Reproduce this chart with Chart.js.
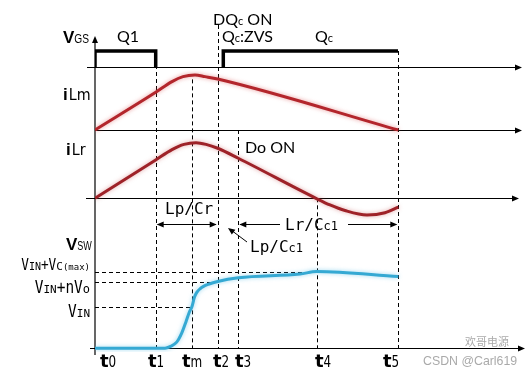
<!DOCTYPE html>
<html>
<head>
<meta charset="utf-8">
<script src="https://cdn.jsdelivr.net/npm/chart.js@4.4.0/dist/chart.umd.min.js"></script>
<style>
  html, body { margin: 0; padding: 0; background: #fff; }
</style>
</head>
<body>
<canvas id="timing" width="531" height="376"></canvas>
<script>
// time markers, arbitrary units with t0 = 0
const timeNames = ['t0', 't1', 'tm', 't2', 't3', 't4', 't5'];
const timeValues = [0, 6.07, 9.73, 12.27, 14.33, 22.17, 30.33];
const timeEnd = 43;

// gate signals (0 = off, 1 = on)
const q1Time = [0, 0, 6.07, 6.07];
const q1Value = [0, 1, 1, 0];
const qcTime = [12.83, 12.83, 30.3];
const qcValue = [-0.15, 1, 1];

// magnetising current iLm, peak = 1
const iLmTime = [0, 6.07, 7.7, 8.8, 10.0, 11.0, 12.27, 30.33];
const iLmValue = [0, 0.685, 0.88, 0.97, 1.0, 0.97, 0.927, 0];

// resonant current iLr, peak = 1
const iLrTime = [0, 6.07, 7.7, 8.9, 10.1, 11.1, 12.27, 14.33, 22.1, 23.5, 25.0, 27.2, 29.0, 30.33];
const iLrValue = [0, 0.689, 0.875, 0.97, 1.0, 0.97, 0.9, 0.72, 0, -0.12, -0.22, -0.3, -0.26, -0.16];

// switch node voltage, VIN = 1
const vswTime = [0, 7.0, 7.5, 8.17, 8.67, 9.1, 9.43, 9.7, 9.95, 10.2, 10.5, 10.85, 11.33, 12.27, 14.33, 20.5, 22.17, 30.33];
const vswValue = [0, 0, 0.04, 0.15, 0.37, 0.65, 0.88, 1.02, 1.25, 1.37, 1.45, 1.51, 1.56, 1.63, 1.72, 1.81, 1.87, 1.75];

// reference levels on the VSW row and where their dashes stop
const levelValues = [1.0, 1.61, 1.87];
const levelEnds = [9.73, 12.27, 22.17];

const zip = (xs, ys) => xs.map((x, i) => ({ x: x, y: ys[i] }));

const MONO = '"DejaVu Sans Mono"';
const SANS = 'Lato';

// draw a run of text pieces with different fonts; sx squeezes a piece
function rich(ctx, x, y, parts, align) {
  let w = 0;
  parts.forEach(p => { ctx.font = p[1]; w += ctx.measureText(p[0]).width * (p[2] || 1); });
  let cx = align === 'right' ? x - w : align === 'center' ? x - w / 2 : x;
  parts.forEach(p => {
    const sx = p[2] || 1;
    ctx.font = p[1];
    ctx.save();
    ctx.translate(cx, y);
    ctx.scale(sx, 1);
    ctx.fillText(p[0], 0, 0);
    ctx.restore();
    cx += ctx.measureText(p[0]).width * sx;
  });
}

function head(ctx, x, y, dx, dy) {
  // filled arrow head pointing along (dx, dy)
  const len = 7, half = 3;
  const n = Math.hypot(dx, dy);
  const ux = dx / n, uy = dy / n;
  ctx.beginPath();
  ctx.moveTo(x, y);
  ctx.lineTo(x - ux * len - uy * half, y - uy * len + ux * half);
  ctx.lineTo(x - ux * len + uy * half, y - uy * len - ux * half);
  ctx.closePath();
  ctx.fill();
}

function line(ctx, x1, y1, x2, y2) {
  ctx.beginPath();
  ctx.moveTo(x1, y1);
  ctx.lineTo(x2, y2);
  ctx.stroke();
}

const overlay = {
  id: 'overlay',
  beforeDatasetsDraw(chart) {
    const { ctx, scales } = chart;
    const px = t => scales.x.getPixelForValue(t);
    const x0 = px(0);
    const yGS = scales.yGS, yLm = scales.yLm, yLr = scales.yLr, ySw = scales.ySw;
    ctx.save();
    ctx.strokeStyle = '#000';
    ctx.fillStyle = '#000';
    ctx.lineWidth = 1.2;

    // row baselines with arrows
    [[yGS, 87, 522], [yLm, x0, 522], [yLr, 86, 519], [ySw, 90, 525]].forEach(r => {
      const y = Math.round(r[0].getPixelForValue(0)) + 0.5;
      line(ctx, r[1], y, r[2] - 4, y);
      head(ctx, r[2], y, 1, 0);
    });
    // vertical axis
    line(ctx, x0, 41, x0, 355);
    head(ctx, x0, 36, 0, -1);

    // dashed time markers
    ctx.lineWidth = 1;
    ctx.setLineDash([4, 3]);
    const tops = [null, yGS.getPixelForValue(1), yLm.getPixelForValue(0.92), 25,
      yLm.getPixelForValue(0), yLr.getPixelForValue(0), yGS.getPixelForValue(1)];
    const bottom = ySw.getPixelForValue(0);
    for (let i = 1; i < timeValues.length; i++) {
      const x = Math.round(px(timeValues[i])) + 0.5;
      line(ctx, x, tops[i], x, bottom);
    }
    // dashed VSW levels
    levelValues.forEach((v, i) => {
      const y = Math.round(ySw.getPixelForValue(v)) + 0.5;
      line(ctx, x0, y, px(levelEnds[i]), y);
    });
    ctx.restore();
  },
  beforeDatasetDraw(chart, args) {
    const ds = chart.data.datasets[args.index];
    chart.ctx.save();
    if (ds.glow) {
      chart.ctx.shadowColor = ds.glow;
      chart.ctx.shadowBlur = 4;
    }
  },
  afterDatasetDraw(chart) {
    chart.ctx.restore();
  },
  afterDraw(chart) {
    const { ctx, scales } = chart;
    const px = t => scales.x.getPixelForValue(t);
    ctx.save();
    ctx.fillStyle = '#000';
    ctx.strokeStyle = '#000';
    ctx.textBaseline = 'alphabetic';

    // row names
    rich(ctx, 63, 43, [['V', 'bold 17px "Liberation Sans"'], ['GS', '12px "Liberation Sans"', 0.85]]);
    rich(ctx, 63, 100, [['i', 'bold 17px "Liberation Sans"'], [' ', '4px sans-serif'], ['Lm', '15px "DejaVu Sans"', 0.95]]);
    rich(ctx, 66, 155, [['i', 'bold 17px "Liberation Sans"'], [' ', '4px sans-serif'], ['Lr', '15px "DejaVu Sans"', 0.95]]);
    rich(ctx, 66, 250, [['V', 'bold 17px "Liberation Sans"'], ['SW', '12px "Liberation Sans"', 0.75]]);

    // level names
    rich(ctx, 90, 270, [['V', '15px ' + MONO, 0.85], ['IN', '10px ' + MONO], ['+V', '15px ' + MONO, 0.85], ['C', '11px ' + MONO], ['(max)', '9px ' + MONO]], 'right');
    rich(ctx, 90, 293, [['V', '17px ' + MONO, 0.85], ['IN', '11px ' + MONO], ['+nV', '17px ' + MONO, 0.85], ['o', '12px ' + MONO]], 'right');
    rich(ctx, 90, 317, [['V', '17px ' + MONO, 0.85], ['IN', '11px ' + MONO]], 'right');

    // switch state notes
    rich(ctx, 117, 42, [['Q1', '16px ' + SANS]]);
    rich(ctx, 213, 25, [['DQ', '16px ' + SANS], ['c', '11px ' + SANS], [' ON', '16px ' + SANS]]);
    rich(ctx, 222, 42, [['Q', '16px ' + SANS], ['c', '11px ' + SANS], [':ZVS', '16px ' + SANS]]);
    rich(ctx, 315, 42, [['Q', '16px ' + SANS], ['c', '11px ' + SANS]]);
    rich(ctx, 245, 153, [['Do ON', '16px ' + SANS]]);

    // interval arrows
    ctx.lineWidth = 1;
    const xt1 = px(timeValues[1]), xt2 = px(timeValues[3]), xt3 = px(timeValues[4]), xt5 = px(timeValues[6]);
    const ya = 224.5;
    line(ctx, xt1 + 2, ya, xt2 - 2, ya);
    head(ctx, xt1 + 1, ya, -1, 0);
    head(ctx, xt2 - 1, ya, 1, 0);
    rich(ctx, 165, 214, [['Lp/Cr', '16px ' + MONO]]);

    line(ctx, xt3 + 2, ya, 280, ya);
    line(ctx, 348, ya, xt5 - 2, ya);
    head(ctx, xt3 + 1, ya, -1, 0);
    head(ctx, xt5 - 1, ya, 1, 0);
    rich(ctx, 285, 230, [['Lr/C', '16px ' + MONO], ['c1', '12px ' + MONO]]);

    line(ctx, 247, 242, 231, 230);
    head(ctx, 228, 228, -16, -12);
    rich(ctx, 250, 252, [['Lp/C', '16px ' + MONO], ['c1', '12px ' + MONO]]);

    // time labels
    const tx = [100, 148, 182, 213, 235, 315, 383];
    timeNames.forEach((n, i) => {
      rich(ctx, tx[i], 367, [['t', 'bold 18px "DejaVu Sans"'], [n.slice(1), '15px "DejaVu Sans"', 0.8]]);
    });

    // watermark
    ctx.fillStyle = 'rgba(140,140,140,0.75)';
    rich(ctx, 465, 346, [['欢哥电源', '11px "Noto Sans CJK SC"']]);
    rich(ctx, 423, 365, [['CSDN @Carl619', '13px "Liberation Sans"', 0.95]]);
    ctx.restore();
  }
};

const curve = {
  showLine: true,
  pointRadius: 0,
  borderWidth: 3,
  cubicInterpolationMode: 'monotone'
};

new Chart(document.getElementById('timing'), {
  type: 'scatter',
  data: {
    datasets: [
      { label: 'Q1', data: zip(q1Time, q1Value), yAxisID: 'yGS', showLine: true, pointRadius: 0,
        borderColor: '#000', borderWidth: 3.5 },
      { label: 'Qc', data: zip(qcTime, qcValue), yAxisID: 'yGS', showLine: true, pointRadius: 0,
        borderColor: '#000', borderWidth: 3.5 },
      Object.assign({ label: 'iLm', data: zip(iLmTime, iLmValue), yAxisID: 'yLm',
        borderColor: '#b3262c', glow: 'rgba(220,90,90,0.6)' }, curve),
      Object.assign({ label: 'iLr', data: zip(iLrTime, iLrValue), yAxisID: 'yLr',
        borderColor: '#9e2228', glow: 'rgba(200,80,80,0.5)' }, curve),
      Object.assign({ label: 'VSW', data: zip(vswTime, vswValue), yAxisID: 'ySw',
        borderColor: '#35a9d3', borderWidth: 3.5, glow: 'rgba(90,190,230,0.6)' }, curve)
    ]
  },
  options: {
    responsive: false,
    animation: false,
    layout: { padding: { left: 95, right: 6, top: 37, bottom: 24 } },
    plugins: { legend: { display: false }, tooltip: { enabled: false } },
    elements: { line: { borderCapStyle: 'butt', borderJoinStyle: 'miter' } },
    scales: {
      x: { type: 'linear', min: 0, max: timeEnd, display: false },
      yGS: { type: 'linear', position: 'left', stack: 'rows', stackWeight: 30, weight: 4,
        min: 0, max: 1.875, display: false },
      yLm: { type: 'linear', position: 'left', stack: 'rows', stackWeight: 69, weight: 3,
        min: -0.109, max: 1.145, display: false },
      yLr: { type: 'linear', position: 'left', stack: 'rows', stackWeight: 88, weight: 2,
        min: -0.462, max: 1.12, display: false },
      ySw: { type: 'linear', position: 'left', stack: 'rows', stackWeight: 128, weight: 1,
        min: -0.09, max: 3.03, display: false }
    }
  },
  plugins: [overlay]
});
</script>
</body>
</html>
